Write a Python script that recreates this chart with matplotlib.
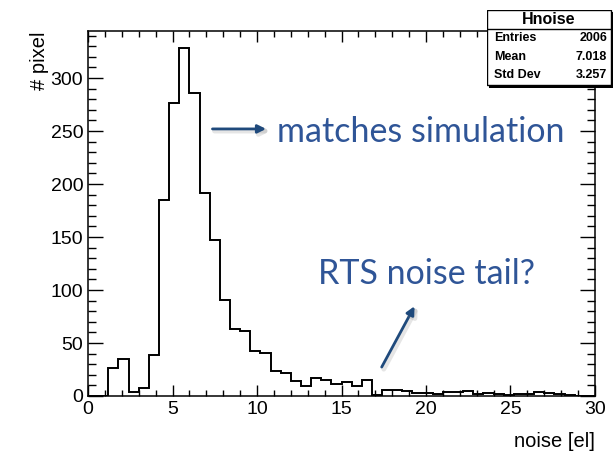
import numpy as np
import matplotlib
matplotlib.use("Agg")
import matplotlib.pyplot as plt
from matplotlib.patches import Rectangle, FancyArrowPatch
from matplotlib.ticker import MultipleLocator
import matplotlib.patheffects as pe

# noise histogram: 50 bins of 0.6 el from 0 to 30
x_lo, x_hi, n_bins = 0.0, 30.0, 50
counts = [0, 0, 26, 35, 4, 8, 39, 185, 276, 328,
          286, 192, 147, 91, 63, 61, 42, 41, 24, 22,
          14, 9, 17, 15, 11, 13, 9, 15, 1, 6,
          6, 5, 3, 3, 2, 4, 4, 5, 2, 3,
          2, 1, 2, 2, 4, 3, 2, 1, 0, 0]

hist_name = "Hnoise"
stat_names = ["Entries", "Mean", "Std Dev"]
stat_values = ["2006", "7.018", "3.257"]

x_title = "noise [el]"
y_title = "# pixel"
note_sim = "matches simulation"
note_rts = "RTS noise tail?"

root_font = "Liberation Sans"
note_font = "Lato"
note_color = "#2F5597"
arrow_color = "#1F4A7C"

edges = np.linspace(x_lo, x_hi, n_bins + 1)

W, H = 616, 455
fig = plt.figure(figsize=(W / 100, H / 100), dpi=100)
ax = fig.add_axes([88 / W, 59 / H, 507 / W, 365 / H])

ax.stairs(counts, edges, color="black", lw=1.4)
ax.set_xlim(x_lo, x_hi)
ax.set_ylim(0, 1.05 * max(counts))

# ROOT-like frame and ticks
for s in ax.spines.values():
    s.set_linewidth(1.1)
ax.xaxis.set_major_locator(MultipleLocator(5))
ax.xaxis.set_minor_locator(MultipleLocator(1))
ax.yaxis.set_major_locator(MultipleLocator(50))
ax.yaxis.set_minor_locator(MultipleLocator(10))
ax.tick_params(axis="both", which="both", direction="in", top=True, right=True,
               width=1.0, labelsize=14)
ax.tick_params(axis="x", which="major", length=8)
ax.tick_params(axis="x", which="minor", length=4)
ax.tick_params(axis="y", which="major", length=11)
ax.tick_params(axis="y", which="minor", length=5.5)
for lab in ax.get_xticklabels() + ax.get_yticklabels():
    lab.set_fontfamily(root_font)

ax.set_xlabel(x_title, fontsize=14.5, family=root_font, loc="right", labelpad=10)
ax.set_ylabel(y_title, fontsize=14.5, family=root_font, loc="top", labelpad=1)

# stats box in pixel units
sb = fig.add_axes([487 / W, (H - 88) / H, 128 / W, 78 / H])
sb.set_xlim(0, 128)
sb.set_ylim(78, 0)
sb.axis("off")
sb.add_patch(Rectangle((2, 2), 124, 76, facecolor="black", edgecolor="none"))
sb.add_patch(Rectangle((0, 0), 124, 75, facecolor="white", edgecolor="black", lw=1.0))
sb.plot([0, 124], [19, 19], color="black", lw=1.0)
sb.text(62, 10, hist_name, ha="center", va="center", fontsize=11.5,
        fontweight="bold", family=root_font)
for i, (nm, val) in enumerate(zip(stat_names, stat_values)):
    yy = 28 + i * 18.5
    sb.text(7, yy, nm, ha="left", va="center", fontsize=9, fontweight="bold",
            family=root_font)
    sb.text(120, yy, val, ha="right", va="center", fontsize=9, fontweight="bold",
            family=root_font)

# annotations
shadow = [pe.SimpleLineShadow(offset=(1.5, -1.5), shadow_color="gray", alpha=0.2,
                              linewidth=3.5), pe.Normal()]
a1 = FancyArrowPatch((7.2, 252), (10.7, 252), arrowstyle="-|>", mutation_scale=12,
                     color=arrow_color, lw=2.0, path_effects=shadow)
ax.add_patch(a1)
a2 = FancyArrowPatch((17.3, 25), (19.4, 87), arrowstyle="-|>", mutation_scale=12,
                     color=arrow_color, lw=2.0, path_effects=shadow)
ax.add_patch(a2)
ax.text(11.2, 249, note_sim, color=note_color, fontsize=24.5, family=note_font,
        ha="left", va="center")
ax.text(13.6, 115, note_rts, color=note_color, fontsize=24.5, family=note_font,
        ha="left", va="center")

fig.savefig("out.png", dpi=100)
